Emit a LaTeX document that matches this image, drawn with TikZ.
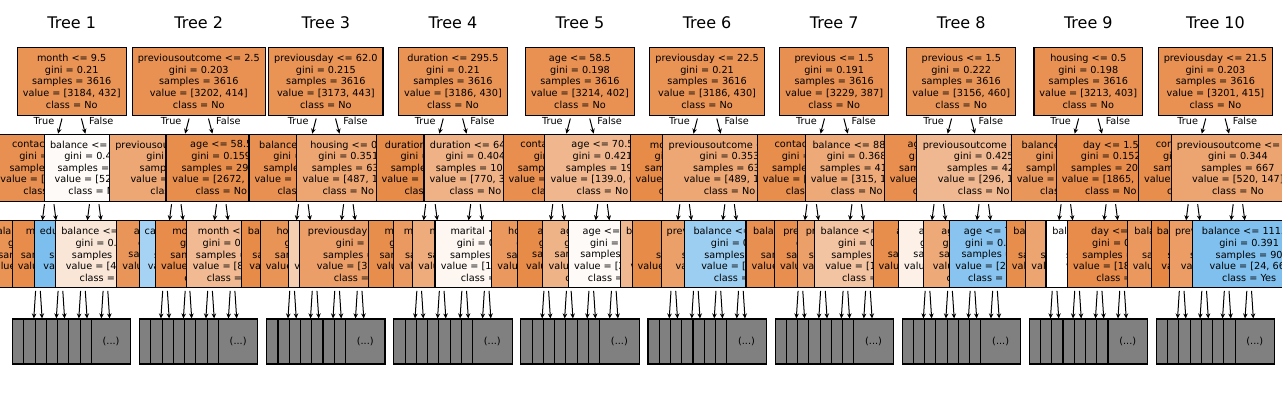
\documentclass[tikz,border=0pt]{standalone}
\usepackage{fontspec}
\setmainfont{DejaVu Sans}
\usetikzlibrary{arrows.meta}
\definecolor{cNo}{RGB}{229,129,57}
\definecolor{cYes}{RGB}{57,157,229}
\definecolor{gboxc}{RGB}{128,128,128}
\tikzset{
  tbox/.style={draw=black, line width=1.1pt, rectangle, align=center,
    font=\fontsize{9.7}{11.64}\selectfont, inner xsep=5.5pt, inner ysep=0pt,
    minimum height=67pt},
  gbox/.style={draw=black, line width=1.1pt, rectangle, fill=gboxc, align=center,
    font=\fontsize{9.7}{11.64}\selectfont, minimum width=39.5pt,
    minimum height=45pt, inner sep=0pt},
  arr/.style={-{Stealth[length=5pt,width=4.6pt]}, line width=1pt, shorten <=2.5pt},
  ttl/.style={font=\fontsize{16}{19}\selectfont, inner sep=0pt},
  tf/.style={font=\fontsize{9.7}{11.64}\selectfont, inner sep=0pt},
}
\newcommand{\grays}[1]{%
  \foreach \n/\x in {aaa/-39.375,aab/-28.125,aba/-16.875,abb/-5.625,baa/5.625,bab/16.875,bba/28.125,bbb/39.375}{%
    \node[gbox] (#1\n) at (\x,341.5) {(...)};}%
}
\newcommand{\treearrows}[1]{%
  \draw[arr] (#1) -- (#1a);
  \draw[arr] (#1) -- (#1b);
  \foreach \p/\c in {a/aa,a/ab,b/ba,b/bb,aa/aaa,aa/aab,ab/aba,ab/abb,ba/baa,ba/bab,bb/bba,bb/bbb}{%
    \draw[arr] (#1\p) -- (#1\c);}%
}
\newcommand{\tflabels}[1]{%
  \node[tf,anchor=east] (#1T) at (-17.2,121) {True};
  \node[tf,anchor=west] (#1F) at (17.2,121) {False};
}
\begin{document}
\begin{tikzpicture}[x=1pt,y=-1pt]
\useasboundingbox (0,0) rectangle (1282,400);
\clip (0,0) rectangle (1282,400);
\fill[white] (0,0) rectangle (1282,400);

% ---------------- Tree 1
\begin{scope}[xshift=71.7pt]
\node[ttl] (h1) at (0,23) {Tree 1};
\node[tbox,minimum height=68.5pt,fill=cNo!86] (r1) at (0,81.3) {month <= 9.5\\gini = 0.21\\samples = 3616\\value = [3184, 432]\\class = No};
\node[tbox,fill=cNo!88] (r1a) at (-22.5,167.7) {contact <= 0.5\\gini = 0.194\\samples = 3514\\value = [3132, 382]\\class = No};
\node[tbox,minimum width=92.6pt,fill=cNo!4] (r1b) at (22.5,167.7) {balance <= 214.5\\gini = 0.499\\samples = 102\\value = [52, 50]\\class = No};
\node[tbox,fill=cNo!86] (r1aa) at (-33.75,254.4) {balance <= 1031.5\\gini = 0.212\\samples = 2491\\value = [2191, 300]\\class = No};
\node[tbox,minimum width=96pt,fill=cNo!91] (r1ab) at (-11.25,254.4) {month <= 7.5\\gini = 0.16\\samples = 1023\\value = [941, 82]\\class = No};
\node[tbox,minimum width=97pt,fill=cYes!66] (r1ba) at (11.25,254.4) {education <= 1.5\\gini = 0.38\\samples = 47\\value = [12, 35]\\class = Yes};
\node[tbox,minimum width=99pt,fill=cNo!20] (r1bb) at (33.75,254.4) {balance <= 350.5\\gini = 0.494\\samples = 72\\value = [40, 32]\\class = No};
\grays{r1}
\treearrows{r1}
\tflabels{r1}
\end{scope}

% ---------------- Tree 2
\begin{scope}[xshift=198.78pt]
\node[ttl] (h2) at (0,23) {Tree 2};
\node[tbox,minimum height=68.5pt,fill=cNo!87] (r2) at (0,81.3) {previousoutcome <= 2.5\\gini = 0.203\\samples = 3616\\value = [3202, 414]\\class = No};
\node[tbox,minimum width=131.2pt,fill=cNo!70] (r2a) at (-22.5,167.7) {previousoutcome <= 0.5\\gini = 0.355\\samples = 689\\value = [530, 159]\\class = No};
\node[tbox,minimum width=110.6pt,fill=cNo!90] (r2b) at (22.5,167.7) {age <= 58.5\\gini = 0.159\\samples = 2927\\value = [2672, 255]\\class = No};
\node[tbox,minimum width=95.4pt,fill=cNo!84] (r2aa) at (-33.75,254.4) {age <= 60.5\\gini = 0.26\\samples = 620\\value = [525, 95]\\class = No};
\node[tbox,minimum width=95pt,fill=cYes!45] (r2ab) at (-11.25,254.4) {campaign <= 1.5\\gini = 0.458\\samples = 62\\value = [22, 40]\\class = Yes};
\node[tbox,minimum width=109.4pt,fill=cNo!91] (r2ba) at (11.25,254.4) {month <= 10.5\\gini = 0.146\\samples = 2542\\value = [2341, 201]\\class = No};
\node[tbox,minimum width=91.6pt,fill=cNo!55] (r2bb) at (33.75,254.4) {month <= 4.5\\gini = 0.427\\samples = 123\\value = [85, 38]\\class = No};
\grays{r2}
\treearrows{r2}
\tflabels{r2}
\end{scope}

% ---------------- Tree 3
\begin{scope}[xshift=325.86pt]
\node[ttl] (h3) at (0,23) {Tree 3};
\node[tbox,minimum height=68.5pt,fill=cNo!86] (r3) at (0,81.3) {previousday <= 62.0\\gini = 0.215\\samples = 3616\\value = [3173, 443]\\class = No};
\node[tbox,minimum width=107.4pt,fill=cNo!88] (r3a) at (-22.5,167.7) {balance <= 380.5\\gini = 0.195\\samples = 2986\\value = [2660, 326]\\class = No};
\node[tbox,minimum width=103.4pt,fill=cNo!71] (r3b) at (22.5,167.7) {housing <= 0.5\\gini = 0.351\\samples = 630\\value = [487, 143]\\class = No};
\node[tbox,minimum width=101.2pt,fill=cNo!92] (r3aa) at (-33.75,254.4) {balance <= 850.5\\gini = 0.14\\samples = 1033\\value = [955, 78]\\class = No};
\node[tbox,minimum width=107.8pt,fill=cNo!85] (r3ab) at (-11.25,254.4) {housing <= 0.5\\gini = 0.224\\samples = 1953\\value = [1702, 251]\\class = No};
\node[tbox,minimum width=96.2pt,fill=cNo!40] (r3ba) at (11.25,254.4) {loan <= 0.5\\gini = 0.47\\samples = 239\\value = [149, 90]\\class = No};
\node[tbox,minimum width=120.6pt,fill=cNo!77] (r3bb) at (33.75,254.4) {previousday <= 10.5\\gini = 0.3\\samples = 391\\value = [319, 72]\\class = No};
\grays{r3}
\treearrows{r3}
\tflabels{r3}
\end{scope}

% ---------------- Tree 4
\begin{scope}[xshift=452.94pt]
\node[ttl] (h4) at (0,23) {Tree 4};
\node[tbox,minimum height=68.5pt,fill=cNo!86] (r4) at (0,81.3) {duration <= 295.5\\gini = 0.21\\samples = 3616\\value = [3186, 430]\\class = No};
\node[tbox,minimum width=107.4pt,fill=cNo!92] (r4a) at (-22.5,167.7) {duration <= 180.5\\gini = 0.132\\samples = 2545\\value = [2364, 181]\\class = No};
\node[tbox,minimum width=102.8pt,fill=cNo!61] (r4b) at (22.5,167.7) {duration <= 646.5\\gini = 0.404\\samples = 1071\\value = [770, 301]\\class = No};
\node[tbox,minimum width=101.8pt,fill=cNo!90] (r4aa) at (-33.75,254.4) {month <= 6.5\\gini = 0.164\\samples = 1040\\value = [946, 94]\\class = No};
\node[tbox,minimum width=96.8pt,fill=cNo!80] (r4ab) at (-11.25,254.4) {month <= 10.5\\gini = 0.296\\samples = 512\\value = [420, 92]\\class = No};
\node[tbox,minimum width=103pt,fill=cNo!66] (r4ba) at (11.25,254.4) {month <= 6.5\\gini = 0.38\\samples = 700\\value = [521, 179]\\class = No};
\node[tbox,minimum width=103.4pt,fill=cNo!7] (r4bb) at (33.75,254.4) {marital <= 0.5\\gini = 0.499\\samples = 371\\value = [192, 179]\\class = No};
\grays{r4}
\treearrows{r4}
\tflabels{r4}
\end{scope}

% ---------------- Tree 5
\begin{scope}[xshift=580.02pt]
\node[ttl] (h5) at (0,23) {Tree 5};
\node[tbox,minimum height=68.5pt,fill=cNo!87] (r5) at (0,81.3) {age <= 58.5\\gini = 0.198\\samples = 3616\\value = [3214, 402]\\class = No};
\node[tbox,minimum width=108.4pt,fill=cNo!89] (r5a) at (-22.5,167.7) {contact <= 0.5\\gini = 0.2\\samples = 3417\\value = [3075, 342]\\class = No};
\node[tbox,minimum width=116.4pt,fill=cNo!57] (r5b) at (22.5,167.7) {age <= 70.5\\gini = 0.421\\samples = 199\\value = [139.0, 60.0]\\class = No};
\node[tbox,minimum width=107.2pt,fill=cNo!82] (r5aa) at (-33.75,254.4) {housing <= 0.5\\gini = 0.262\\samples = 1795\\value = [1517, 278]\\class = No};
\node[tbox,minimum width=103pt,fill=cNo!92] (r5ab) at (-11.25,254.4) {age <= 29.5\\gini = 0.139\\samples = 972\\value = [899, 73]\\class = No};
\node[tbox,minimum width=97.2pt,fill=cNo!60] (r5ba) at (11.25,254.4) {age <= 60.5\\gini = 0.41\\samples = 160\\value = [114, 46]\\class = No};
\node[tbox,minimum width=91pt,fill=cNo!4] (r5bb) at (33.75,254.4) {age <= 75.5\\gini = 0.5\\samples = 49\\value = [25, 24]\\class = No};
\grays{r5}
\treearrows{r5}
\tflabels{r5}
\end{scope}

% ---------------- Tree 6
\begin{scope}[xshift=707.1pt]
\node[ttl] (h6) at (0,23) {Tree 6};
\node[tbox,minimum height=68.5pt,fill=cNo!86] (r6) at (0,81.3) {previousday <= 22.5\\gini = 0.21\\samples = 3616\\value = [3186, 430]\\class = No};
\node[tbox,minimum width=107.8pt,fill=cNo!92] (r6a) at (-22.5,167.7) {month <= 9.5\\gini = 0.135\\samples = 2982\\value = [2768, 214]\\class = No};
\node[tbox,minimum width=134.6pt,fill=cNo!70] (r6b) at (22.5,167.7) {previousoutcome <= 1.5\\gini = 0.353\\samples = 634\\value = [489, 145]\\class = No};
\node[tbox,minimum width=103.3pt,fill=cNo!56] (r6aa) at (-33.75,254.4) {balance <= 1250.5\\gini = 0.426\\samples = 270\\value = [187, 83]\\class = No};
\node[tbox,minimum width=127pt,fill=cNo!92] (r6ab) at (-11.25,254.4) {day <= 29.5\\gini = 0.135\\samples = 2710\\value = [2512.0, 198.0]\\class = No};
\node[tbox,minimum width=113.3pt,fill=cNo!76] (r6ba) at (11.25,254.4) {previousday <= 10.5\\gini = 0.31\\samples = 501\\value = [405, 96]\\class = No};
\node[tbox,minimum width=113.1pt,fill=cYes!50] (r6bb) at (33.75,254.4) {balance <= 1502.5\\gini = 0.443\\samples = 133\\value = [44, 89]\\class = Yes};
\grays{r6}
\treearrows{r6}
\tflabels{r6}
\end{scope}

% ---------------- Tree 7
\begin{scope}[xshift=834.18pt]
\node[ttl] (h7) at (0,23) {Tree 7};
\node[tbox,minimum height=68.5pt,fill=cNo!88] (r7) at (0,81.3) {previous <= 1.5\\gini = 0.191\\samples = 3616\\value = [3229, 387]\\class = No};
\node[tbox,minimum width=108pt,fill=cNo!90] (r7a) at (-22.5,167.7) {contact <= 0.5\\gini = 0.163\\samples = 3200\\value = [2914, 286]\\class = No};
\node[tbox,minimum width=102.8pt,fill=cNo!68] (r7b) at (22.5,167.7) {balance <= 883.5\\gini = 0.368\\samples = 416\\value = [315, 101]\\class = No};
\node[tbox,minimum width=108.8pt,fill=cNo!88] (r7aa) at (-33.75,254.4) {balance <= 2070.5\\gini = 0.19\\samples = 2500\\value = [2234, 266]\\class = No};
\node[tbox,minimum width=97.2pt,fill=cNo!89] (r7ab) at (-11.25,254.4) {previous <= 2.5\\gini = 0.18\\samples = 700\\value = [630, 70]\\class = No};
\node[tbox,minimum width=96.2pt,fill=cNo!76] (r7ba) at (11.25,254.4) {previous <= 3.5\\gini = 0.314\\samples = 262\\value = [211, 51]\\class = No};
\node[tbox,minimum width=107.2pt,fill=cNo!47] (r7bb) at (33.75,254.4) {balance <= 1840.5\\gini = 0.443\\samples = 159\\value = [104, 55]\\class = No};
\grays{r7}
\treearrows{r7}
\tflabels{r7}
\end{scope}

% ---------------- Tree 8
\begin{scope}[xshift=961.26pt]
\node[ttl] (h8) at (0,23) {Tree 8};
\node[tbox,minimum height=68.5pt,fill=cNo!85] (r8) at (0,81.3) {previous <= 1.5\\gini = 0.222\\samples = 3616\\value = [3156, 460]\\class = No};
\node[tbox,minimum width=109pt,fill=cNo!89] (r8a) at (-22.5,167.7) {age <= 60.5\\gini = 0.185\\samples = 3189\\value = [2860, 329]\\class = No};
\node[tbox,minimum width=134.2pt,fill=cNo!56] (r8b) at (22.5,167.7) {previousoutcome <= 0.5\\gini = 0.425\\samples = 427\\value = [296, 131]\\class = No};
\node[tbox,minimum width=108.4pt,fill=cNo!90] (r8aa) at (-33.75,254.4) {age <= 29.5\\gini = 0.168\\samples = 2900\\value = [2632, 268]\\class = No};
\node[tbox,minimum width=90pt,fill=cNo!12] (r8ab) at (-11.25,254.4) {age <= 35.5\\gini = 0.498\\samples = 410\\value = [218, 192]\\class = No};
\node[tbox,minimum width=98.4pt,fill=cNo!68] (r8ba) at (11.25,254.4) {age <= 60.5\\gini = 0.367\\samples = 95\\value = [72, 23]\\class = No};
\node[tbox,minimum width=90pt,fill=cYes!60] (r8bb) at (33.75,254.4) {age <= 71.5\\gini = 0.408\\samples = 84\\value = [24, 60]\\class = Yes};
\grays{r8}
\treearrows{r8}
\tflabels{r8}
\end{scope}

% ---------------- Tree 9
\begin{scope}[xshift=1088.34pt]
\node[ttl] (h9) at (0,23) {Tree 9};
\node[tbox,minimum height=68.5pt,fill=cNo!87] (r9) at (0,81.3) {housing <= 0.5\\gini = 0.198\\samples = 3616\\value = [3213, 403]\\class = No};
\node[tbox,minimum width=108.2pt,fill=cNo!83] (r9a) at (-22.5,167.7) {balance <= 350.5\\gini = 0.263\\samples = 1582\\value = [1348, 234]\\class = No};
\node[tbox,minimum width=108.2pt,fill=cNo!91] (r9b) at (22.5,167.7) {day <= 1.5\\gini = 0.152\\samples = 2034\\value = [1865, 169]\\class = No};
\node[tbox,minimum width=95.8pt,fill=cNo!90] (r9aa) at (-33.75,254.4) {balance <= 80.5\\gini = 0.17\\samples = 900\\value = [815, 85]\\class = No};
\node[tbox,minimum width=102.8pt,fill=cNo!72] (r9ab) at (-11.25,254.4) {day <= 9.5\\gini = 0.342\\samples = 682\\value = [533, 149]\\class = No};
\node[tbox,minimum width=107.2pt,fill=white] (r9ba) at (11.25,254.4) {balance <= 2070.5\\gini = 0.5\\samples = 14\\value = [7, 7]\\class = No};
\node[tbox,minimum width=109.6pt,fill=cNo!91] (r9bb) at (33.75,254.4) {day <= 29.5\\gini = 0.149\\samples = 2020\\value = [1856, 164]\\class = No};
\grays{r9}
\treearrows{r9}
\tflabels{r9}
\end{scope}

% ---------------- Tree 10
\begin{scope}[xshift=1215.42pt]
\node[ttl] (h10) at (0,23) {Tree 10};
\node[tbox,minimum height=68.5pt,fill=cNo!87] (r10) at (0,81.3) {previousday <= 21.5\\gini = 0.203\\samples = 3616\\value = [3201, 415]\\class = No};
\node[tbox,minimum width=109.2pt,fill=cNo!90] (r10a) at (-22.5,167.7) {contact <= 0.5\\gini = 0.166\\samples = 2949\\value = [2681, 268]\\class = No};
\node[tbox,minimum width=132.4pt,fill=cNo!72] (r10b) at (22.5,167.7) {previousoutcome <= 1.5\\gini = 0.344\\samples = 667\\value = [520, 147]\\class = No};
\node[tbox,minimum width=108.8pt,fill=cNo!82] (r10aa) at (-33.75,254.4) {balance <= 1750.5\\gini = 0.26\\samples = 2500\\value = [2115, 385]\\class = No};
\node[tbox,minimum width=103pt,fill=cNo!95] (r10ab) at (-11.25,254.4) {balance <= 4270.5\\gini = 0.093\\samples = 449\\value = [427, 22]\\class = No};
\node[tbox,minimum width=114.6pt,fill=cNo!78] (r10ba) at (11.25,254.4) {previousday <= 10.5\\gini = 0.3\\samples = 577\\value = [471, 106]\\class = No};
\node[tbox,minimum width=113.8pt,fill=cYes!64] (r10bb) at (33.75,254.4) {balance <= 1113.5\\gini = 0.391\\samples = 90\\value = [24, 66]\\class = Yes};
\grays{r10}
\treearrows{r10}
\tflabels{r10}
\end{scope}
\end{tikzpicture}
\end{document}
